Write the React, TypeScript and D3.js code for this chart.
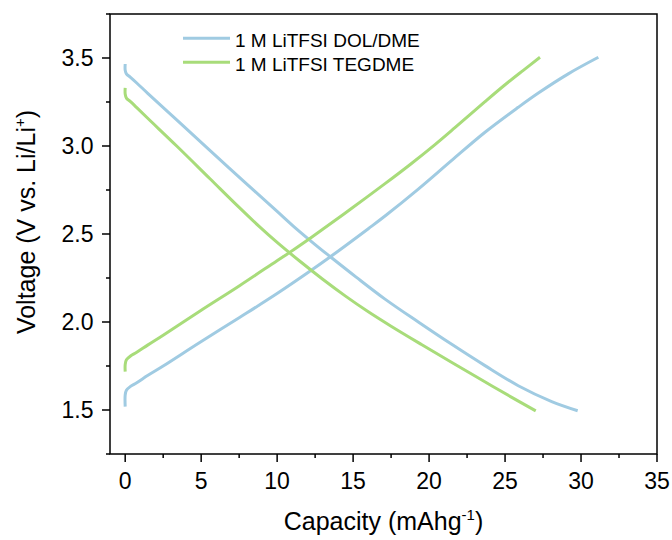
import React from "react";
import * as d3 from "d3";

// ---- data ----
const dolDischargeX = [0, 0, 0.08, 0.35, 0.76, 1.5, 3.39, 5.5, 7.77, 10.0, 11.06, 12.5, 13.48, 15.2, 17.1, 19.29, 21.49, 23.68, 25.87, 28.07, 29.78];
const dolDischargeV = [3.466, 3.43, 3.41, 3.39, 3.358, 3.298, 3.148, 2.981, 2.802, 2.628, 2.545, 2.44, 2.372, 2.255, 2.13, 2.0, 1.873, 1.752, 1.638, 1.548, 1.496];

const dolChargeX = [0, 0, 0.08, 0.35, 0.76, 1.5, 2.5, 4.93, 7.5, 9.97, 12.27, 13.48, 16.0, 17.1, 19.29, 21.49, 23.68, 25.87, 27.19, 29.16, 31.14];
const dolChargeV = [1.519, 1.585, 1.612, 1.634, 1.655, 1.697, 1.75, 1.885, 2.024, 2.16, 2.295, 2.369, 2.53, 2.602, 2.755, 2.918, 3.078, 3.22, 3.301, 3.41, 3.504];

const tegDischargeX = [0, 0, 0.08, 0.35, 0.76, 1.5, 3.39, 5.58, 7.5, 8.87, 10.0, 11.5, 13.0, 14.5, 16.0, 17.5, 19.5, 21.5, 23.5, 25.5, 27.02];
const tegDischargeV = [3.33, 3.295, 3.272, 3.252, 3.218, 3.156, 3.0, 2.814, 2.651, 2.539, 2.452, 2.345, 2.243, 2.147, 2.058, 1.976, 1.872, 1.77, 1.669, 1.569, 1.495];

const tegChargeX = [0, 0, 0.08, 0.35, 0.76, 1.5, 2.5, 4.93, 7.5, 9.97, 10.85, 11.94, 13.0, 15.0, 17.1, 18.8, 20.39, 21.7, 23.68, 25.0, 26.2, 27.3];
const tegChargeV = [1.718, 1.758, 1.785, 1.807, 1.828, 1.87, 1.925, 2.063, 2.205, 2.347, 2.397, 2.462, 2.527, 2.652, 2.786, 2.898, 3.008, 3.104, 3.252, 3.348, 3.43, 3.504];

const seriesNames = ["1 M LiTFSI DOL/DME", "1 M LiTFSI TEGDME"];
const seriesColors = ["#a0cbe2", "#a8dc7a"];

const xMajorTicks = [0, 5, 10, 15, 20, 25, 30, 35];
const xMinorTicks = [2.5, 7.5, 12.5, 17.5, 22.5, 27.5, 32.5];
const yMajorTicks = [1.5, 2.0, 2.5, 3.0, 3.5];
const yMinorTicks = [1.25, 1.75, 2.25, 2.75, 3.25, 3.75];

const W = 672;
const H = 540;
const M = { left: 110, right: 657, top: 14, bottom: 454 };
const FONT = "'Liberation Sans', Arial, sans-serif";

export default function App() {
  const x = d3.scaleLinear().domain([-1, 35]).range([M.left, M.right]);
  const y = d3.scaleLinear().domain([1.25, 3.75]).range([M.bottom, M.top]);

  const line = d3
    .line<[number, number]>()
    .x((d) => x(d[0]))
    .y((d) => y(d[1]))
    .curve(d3.curveCatmullRom.alpha(0.5));

  const zip = (xs: number[], vs: number[]) => xs.map((v, i) => [v, vs[i]] as [number, number]);

  const curves = [
    { d: zip(dolDischargeX, dolDischargeV), c: seriesColors[0] },
    { d: zip(dolChargeX, dolChargeV), c: seriesColors[0] },
    { d: zip(tegDischargeX, tegDischargeV), c: seriesColors[1] },
    { d: zip(tegChargeX, tegChargeV), c: seriesColors[1] },
  ];

  const axisColor = "#000";
  const major = 8;
  const minor = 4;

  return (
    <svg width={W} height={H} style={{ position: "absolute", left: 0, top: 0, background: "#fff" }} fontFamily={FONT}>
      <rect x={0} y={0} width={W} height={H} fill="#fff" />
      {curves.map((cv, i) => (
        <path key={i} d={line(cv.d) || ""} fill="none" stroke={cv.c} strokeWidth={3} strokeLinecap="butt" strokeLinejoin="round" />
      ))}
      <rect x={M.left} y={M.top} width={M.right - M.left} height={M.bottom - M.top} fill="none" stroke={axisColor} strokeWidth={1.5} />
      {xMajorTicks.map((t) => (
        <g key={"xM" + t}>
          <line x1={x(t)} x2={x(t)} y1={M.bottom} y2={M.bottom + major} stroke={axisColor} strokeWidth={1.5} />
          <text x={x(t)} y={489} textAnchor="middle" fontSize={23} fill="#000">
            {t}
          </text>
        </g>
      ))}
      {xMinorTicks.map((t) => (
        <line key={"xm" + t} x1={x(t)} x2={x(t)} y1={M.bottom} y2={M.bottom + minor} stroke={axisColor} strokeWidth={1.5} />
      ))}
      {yMajorTicks.map((t) => (
        <g key={"yM" + t}>
          <line x1={M.left - major} x2={M.left} y1={y(t)} y2={y(t)} stroke={axisColor} strokeWidth={1.5} />
          <text x={93.5} y={y(t)} dy="0.36em" textAnchor="end" fontSize={23} fill="#000">
            {t.toFixed(1)}
          </text>
        </g>
      ))}
      {yMinorTicks.map((t) => (
        <line key={"ym" + t} x1={M.left - minor} x2={M.left} y1={y(t)} y2={y(t)} stroke={axisColor} strokeWidth={1.5} />
      ))}
      <text x={(M.left + M.right) / 2} y={529.5} textAnchor="middle" fontSize={25} fill="#000">
        Capacity (mAhg
        <tspan fontSize={15} dy={-10}>-1</tspan>
        <tspan dy={10}>)</tspan>
      </text>
      <text transform={`translate(35, 222) rotate(-90)`} textAnchor="middle" fontSize={25} fill="#000">
        Voltage (V vs. Li/Li
        <tspan fontSize={15} dy={-10}>+</tspan>
        <tspan dy={10}>)</tspan>
      </text>
      {seriesNames.map((n, i) => (
        <g key={n}>
          <line x1={183} x2={230} y1={38.3 + i * 24} y2={38.3 + i * 24} stroke={seriesColors[i]} strokeWidth={3} />
          <text x={235} y={46.5 + i * 24} fontSize={19} fill="#000">
            {n}
          </text>
        </g>
      ))}
    </svg>
  );
}
